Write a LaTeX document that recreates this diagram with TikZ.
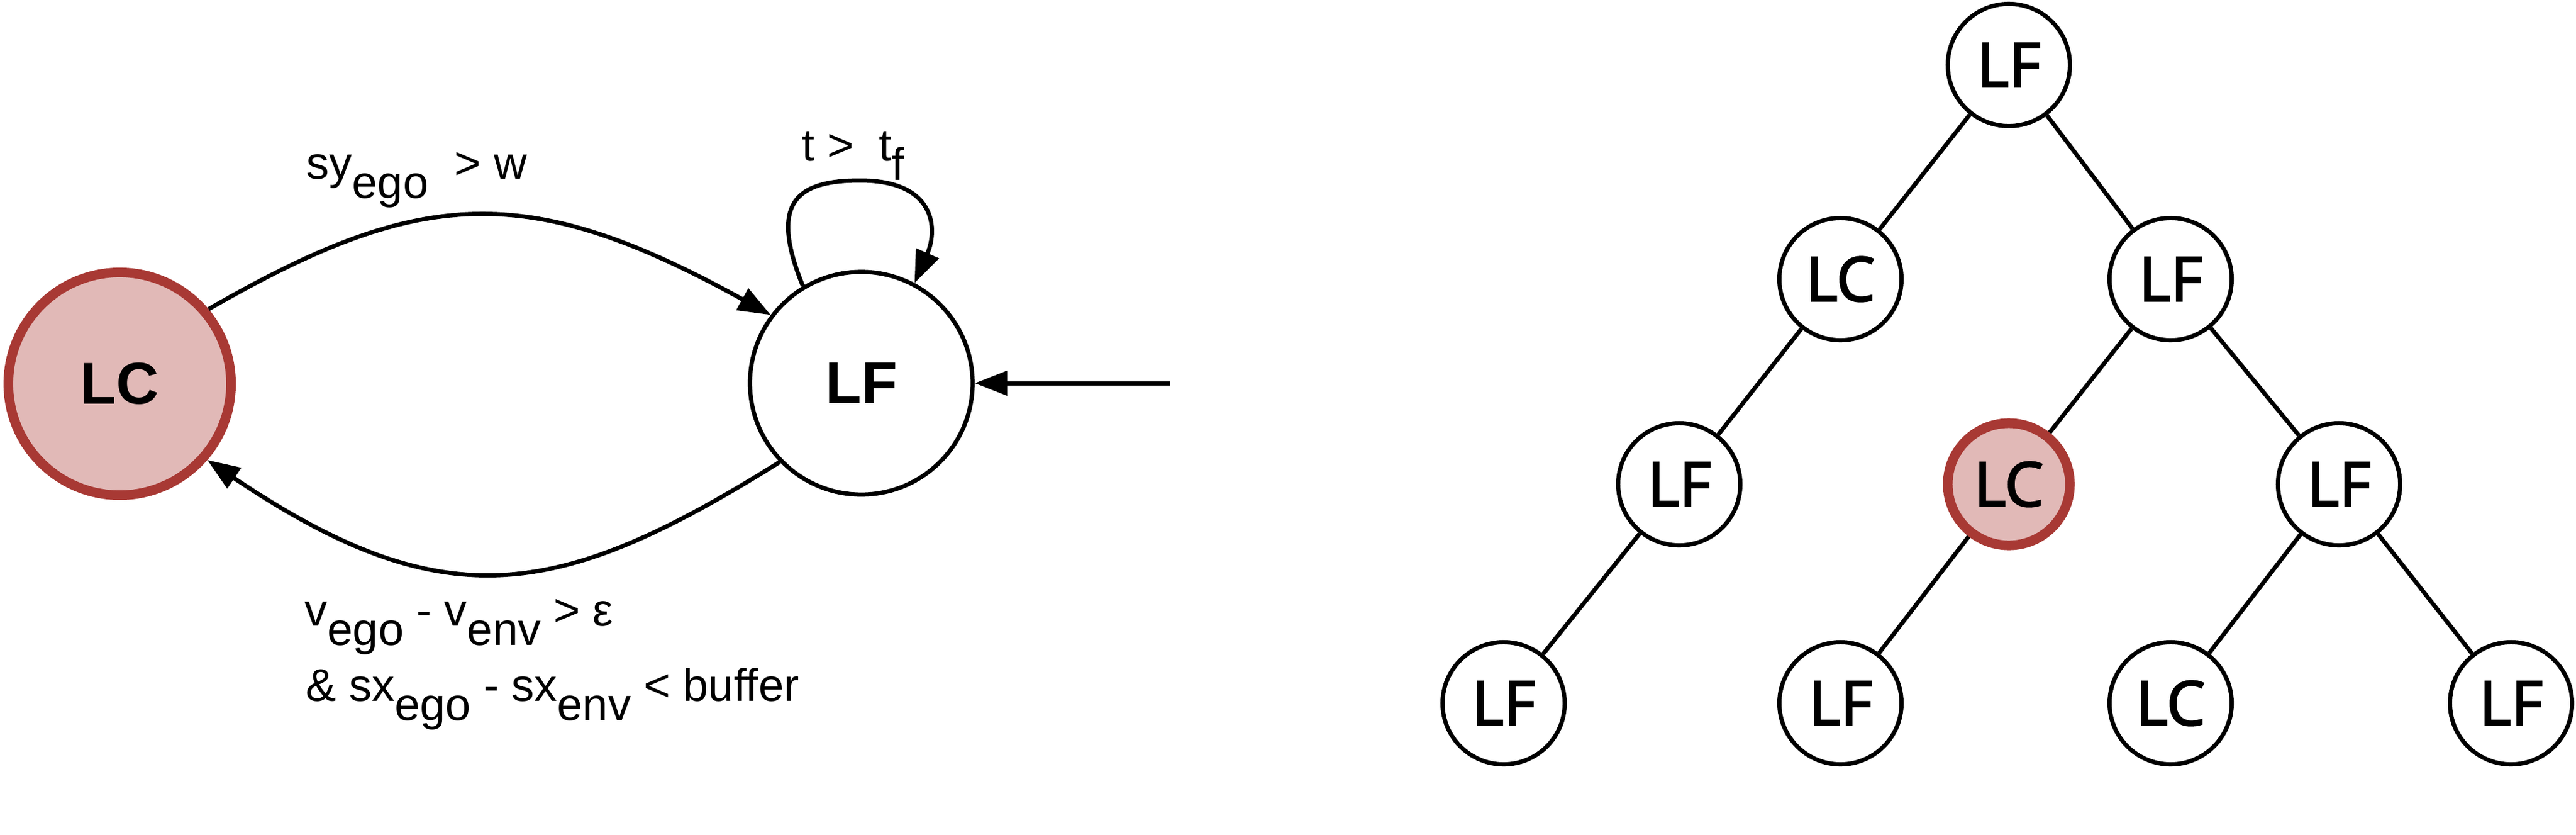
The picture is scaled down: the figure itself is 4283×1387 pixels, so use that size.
\documentclass[tikz,border=0pt]{standalone}
\usepackage{fontspec}
\setmainfont{Liberation Sans}
\newfontfamily\treefont[FakeBold=2.5]{Open Sans}
\usetikzlibrary{arrows.meta}
\definecolor{lcred}{RGB}{168,57,52}
\definecolor{lcfill}{RGB}{225,185,183}
\newcommand{\lowsub}[1]{\raisebox{-0.43em}{#1}}

\begin{document}
\begin{tikzpicture}[x=0.01cm,y=-0.01cm]
	\tikzstyle{every node}+=[inner sep=0pt]
	\tikzstyle{bigstate}=[circle,draw=black,fill=white,line width=0.07cm,minimum size=3.7cm,font=\fontsize{27.9}{30}\selectfont\bfseries]
	\tikzstyle{bigred}=[bigstate,draw=lcred,fill=lcfill,line width=0.16cm]
	\tikzstyle{treestate}=[circle,draw=black,fill=white,line width=0.07cm,minimum size=2.03cm,font=\treefont\fontsize{29}{31}\selectfont]
	\tikzstyle{treered}=[treestate,draw=lcred,fill=lcfill,line width=0.16cm]
	\tikzstyle{trans}=[line width=0.07cm,-{Triangle[length=0.54cm,width=0.4cm]}]
	\tikzstyle{branch}=[line width=0.07cm]
	\tikzstyle{cond}=[anchor=base west,font=\fontsize{21.6}{26}\selectfont]
	\useasboundingbox (0,0) rectangle (4283,1387);
	\node[bigred] (lc) at (199,638) {LC};
	\node[bigstate] (lf) at (1432,637) {LF};
	\coordinate (entry) at (1945,637);
	\draw[trans] (entry) -- (lf);
	\draw[trans] (lc.40) .. controls (699,311) and (877,300) .. (lf.143);
	\draw[trans] (lf.224) .. controls (930,997) and (740,1031) .. (lc.319);
	\draw[trans] (lf.121) .. controls (1280,340) and (1320,300) .. (1430,300) .. controls (1555,300) and (1560,380) .. (lf.62);
	\node[cond] (laneswitch) at (509,297) {sy\lowsub{ego}\hspace{0.57em}> w};
	\node[cond] (timeout) at (1333,267) {t > \hspace{0.27em}t\lowsub{f}};
	\node[cond] (speedgap) at (506,1040) {v\lowsub{ego} - v\lowsub{env} > ε};
	\node[cond] (bufgap) at (508,1165) {\& sx\lowsub{ego} - sx\lowsub{env} < buffer};
	\node[treestate] (root) at (3340,108) {LF};
	\node[treestate] (lcA) at (3060,464) {LC};
	\node[treestate] (lfA) at (3609,464) {LF};
	\node[treestate] (lfB) at (2792,805) {LF};
	\node[treered] (lcB) at (3340,805) {LC};
	\node[treestate] (lfC) at (3889,805) {LF};
	\node[treestate] (lfD) at (2500,1169) {LF};
	\node[treestate] (lfE) at (3060,1169) {LF};
	\node[treestate] (lcC) at (3609,1169) {LC};
	\node[treestate] (lfF) at (4175,1169) {LF};
	\draw[branch] (root) -- (lcA);
	\draw[branch] (root) -- (lfA);
	\draw[branch] (lcA) -- (lfB);
	\draw[branch] (lfA) -- (lcB);
	\draw[branch] (lfA) -- (lfC);
	\draw[branch] (lfB) -- (lfD);
	\draw[branch] (lcB) -- (lfE);
	\draw[branch] (lfC) -- (lcC);
	\draw[branch] (lfC) -- (lfF);
\end{tikzpicture}
\end{document}
